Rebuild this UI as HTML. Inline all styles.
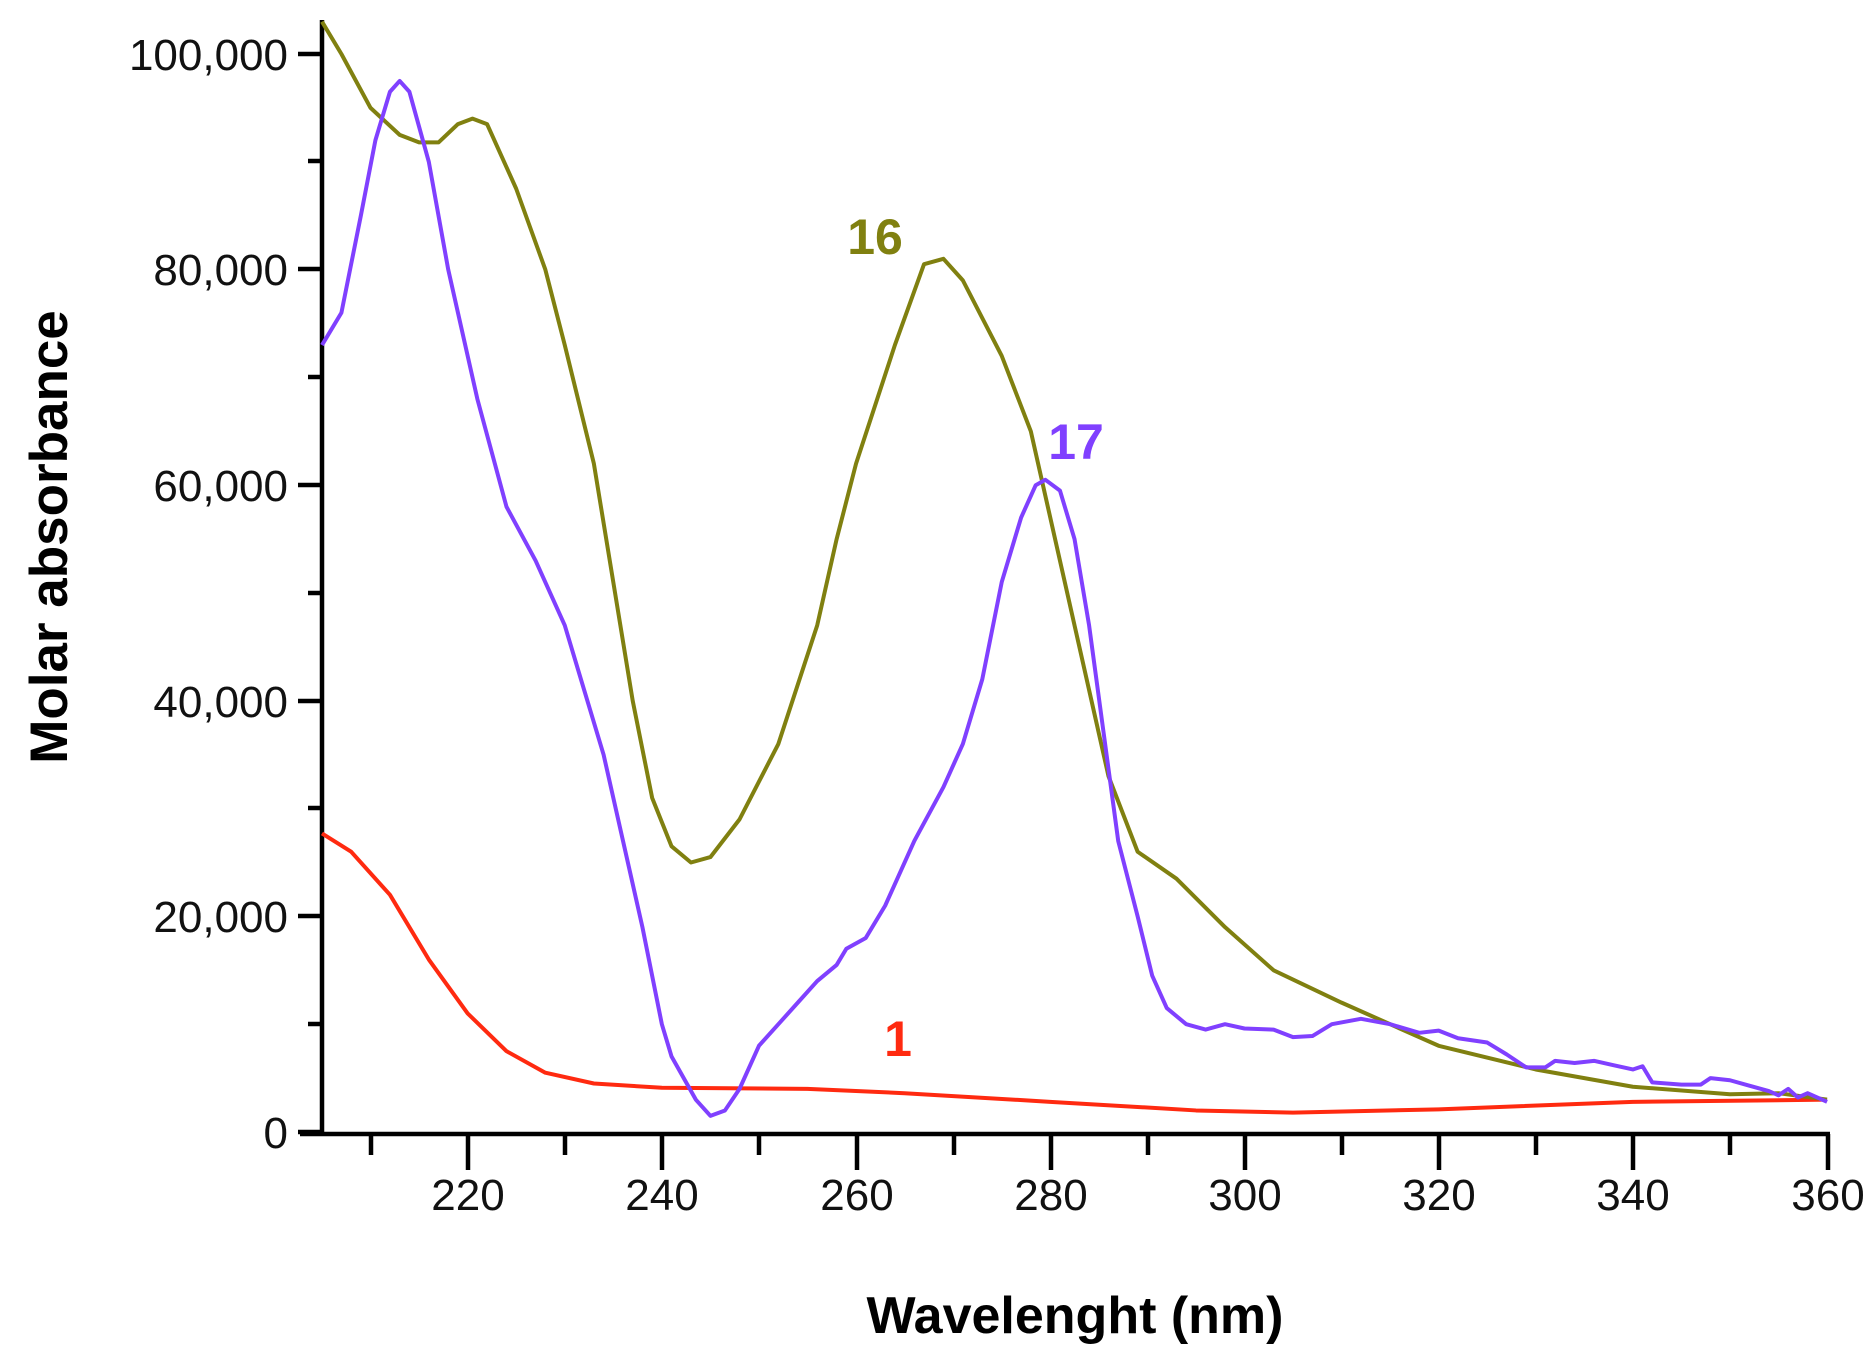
<!DOCTYPE html>
<html><head><meta charset="utf-8"><style>body{margin:0;background:#fff}svg{display:block}</style></head><body>
<svg width="1873" height="1362" viewBox="0 0 1873 1362" xmlns="http://www.w3.org/2000/svg" font-family="Liberation Sans, Arial, sans-serif">
<g stroke="#000" stroke-width="4.5" fill="none">
<line x1="322" y1="20" x2="322" y2="1134"/>
<line x1="300" y1="1134" x2="1830" y2="1134"/>
<g>
<line x1="298" y1="1132" x2="322" y2="1132"/><line x1="308" y1="1024" x2="322" y2="1024"/>
<line x1="298" y1="916" x2="322" y2="916"/><line x1="308" y1="808" x2="322" y2="808"/>
<line x1="298" y1="701" x2="322" y2="701"/><line x1="308" y1="593" x2="322" y2="593"/>
<line x1="298" y1="485" x2="322" y2="485"/><line x1="308" y1="377" x2="322" y2="377"/>
<line x1="298" y1="269" x2="322" y2="269"/><line x1="308" y1="161" x2="322" y2="161"/>
<line x1="298" y1="54" x2="322" y2="54"/>
</g>
<g>
<line x1="371" y1="1134" x2="371" y2="1155"/><line x1="468" y1="1134" x2="468" y2="1170"/>
<line x1="565" y1="1134" x2="565" y2="1155"/><line x1="662" y1="1134" x2="662" y2="1170"/>
<line x1="759" y1="1134" x2="759" y2="1155"/><line x1="857" y1="1134" x2="857" y2="1170"/>
<line x1="954" y1="1134" x2="954" y2="1155"/><line x1="1051" y1="1134" x2="1051" y2="1170"/>
<line x1="1148" y1="1134" x2="1148" y2="1155"/><line x1="1245" y1="1134" x2="1245" y2="1170"/>
<line x1="1342" y1="1134" x2="1342" y2="1155"/><line x1="1439" y1="1134" x2="1439" y2="1170"/>
<line x1="1536" y1="1134" x2="1536" y2="1155"/><line x1="1633" y1="1134" x2="1633" y2="1170"/>
<line x1="1730" y1="1134" x2="1730" y2="1155"/><line x1="1828" y1="1134" x2="1828" y2="1170"/>
</g>
</g>
<g font-size="44" fill="#111" text-anchor="end">
<text x="288" y="1148">0</text><text x="288" y="932">20,000</text><text x="288" y="717">40,000</text>
<text x="288" y="501">60,000</text><text x="288" y="285">80,000</text><text x="288" y="70">100,000</text>
</g>
<g font-size="44" fill="#111" text-anchor="middle">
<text x="468" y="1210">220</text><text x="662" y="1210">240</text><text x="857" y="1210">260</text>
<text x="1051" y="1210">280</text><text x="1245" y="1210">300</text><text x="1439" y="1210">320</text>
<text x="1633" y="1210">340</text><text x="1828" y="1210">360</text>
</g>
<text x="1075" y="1333" font-size="52" font-weight="bold" text-anchor="middle">Wavelenght (nm)</text>
<text transform="translate(67,537) rotate(-90)" font-size="53" font-weight="bold" text-anchor="middle">Molar absorbance</text>
<g transform="matrix(9.71 0 0 -10.78 -1668.55 1132)" fill="none" stroke-width="4" stroke-linejoin="round">
<polyline vector-effect="non-scaling-stroke" stroke="#ff2a10" points="205,27.7 208,26 212,22 216,16 220,11 224,7.5 228,5.5 233,4.5 240,4.1 255,4 265,3.6 280,2.8 295,2 305,1.8 320,2.1 340,2.8 360,3"/>
<polyline vector-effect="non-scaling-stroke" stroke="#808010" points="205,103 207,100 210,95 213,92.5 215,91.8 217,91.8 219,93.5 220.5,94 222,93.5 225,87.5 228,80 230,73 233,62 235,51 237,40 239,31 241,26.5 243,25 245,25.5 248,29 252,36 256,47 258,55 260,62 264,73 267,80.5 269,81 271,79 275,72 278,65 281,53 283,45 286,33 289,26 293,23.5 298,19 303,15 310,12 320,8 330,5.8 340,4.2 350,3.5 355,3.6 360,3"/>
<polyline vector-effect="non-scaling-stroke" stroke="#8040ff" points="205,73 207,76 209,85 210.5,92 212,96.5 213,97.5 214,96.5 216,90 218,80 221,68 224,58 227,53 230,47 232,41 234,35 236,27 238,19 240,10 241,7 243.5,3 245,1.5 246.5,2 248,4 250,8 252,10 254,12 256,14 258,15.5 259,17 261,18 263,21 266,27 269,32 271,36 273,42 275,51 277,57 278.5,60 279.5,60.5 281,59.5 282.5,55 284,47 285.5,37 287,27 289,20 290.5,14.5 292,11.5 294,10 296,9.5 298,10 300,9.6 303,9.5 305,8.8 307,8.9 309,10 312,10.5 315,10 318,9.2 320,9.4 322,8.7 325,8.3 327,7.2 329,6 331,6 332,6.6 334,6.4 336,6.6 338,6.2 340,5.8 341,6.1 342,4.6 345,4.4 347,4.4 348,5 350,4.8 352,4.3 354,3.8 355,3.4 356,4 357,3.2 358,3.6 360,2.8"/>
</g>
<g font-size="50" font-weight="bold" text-anchor="middle">
<text x="875" y="254" fill="#808010">16</text>
<text x="1076" y="459" fill="#8040ff">17</text>
<text x="898" y="1056" fill="#ff2a10">1</text>
</g>
</svg>
</body></html>
